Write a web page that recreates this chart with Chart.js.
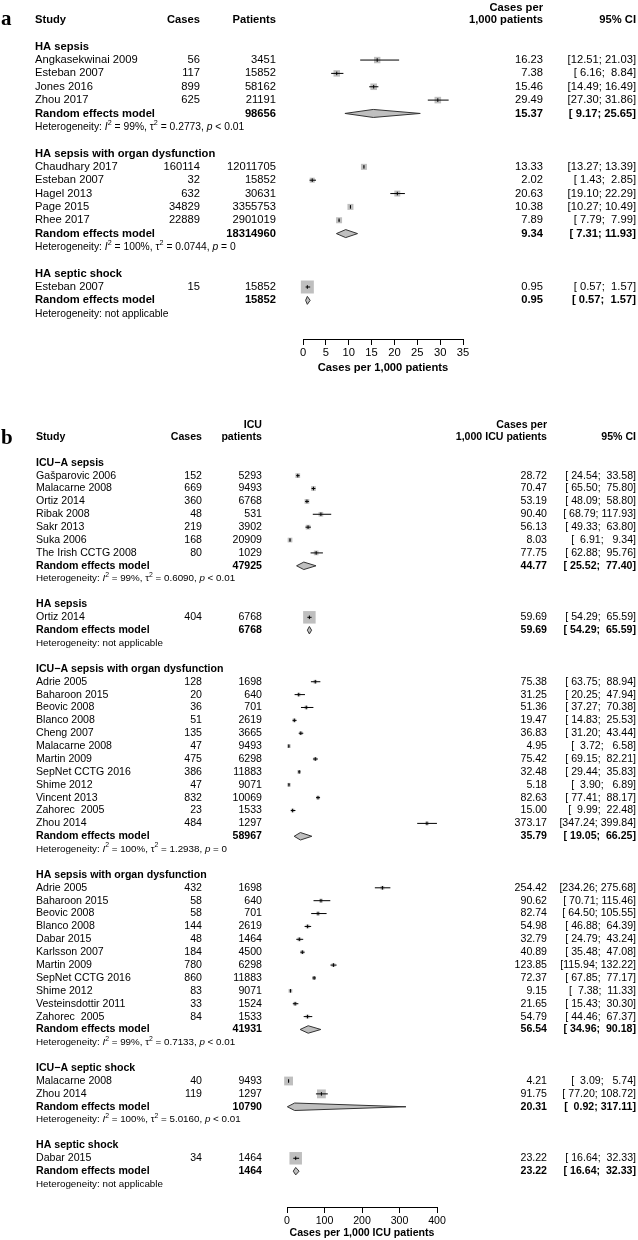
<!DOCTYPE html>
<html>
<head>
<meta charset="utf-8">
<script src="https://cdn.jsdelivr.net/npm/chart.js@4.4.1/dist/chart.umd.min.js"></script>
<style>
  html, body { margin: 0; padding: 0; background: #fff; overflow: hidden; }
  canvas { display: block; }
</style>
</head>
<body>
<canvas id="forestA" width="638" height="395"></canvas>
<canvas id="forestB" width="638" height="860"></canvas>
<script>
/* ---------------- panel a : HA incidence per 1,000 patients ---------------- */
const aGroups = ["HA sepsis", "HA sepsis with organ dysfunction", "HA septic shock"];
const aStudy = ["Angkasekwinai 2009", "Esteban 2007", "Jones 2016", "Zhou 2017",
  "Chaudhary 2017", "Esteban 2007", "Hagel 2013", "Page 2015", "Rhee 2017",
  "Esteban 2007"];
const aGroupOf = [0, 0, 0, 0, 1, 1, 1, 1, 1, 2];
const aCases = [56, 117, 899, 625, 160114, 32, 632, 34829, 22889, 15];
const aPatients = [3451, 15852, 58162, 21191, 12011705, 15852, 30631, 3355753, 2901019, 15852];
const aRate = [16.23, 7.38, 15.46, 29.49, 13.33, 2.02, 20.63, 10.38, 7.89, 0.95];
const aLow = [12.51, 6.16, 14.49, 27.30, 13.27, 1.43, 19.10, 10.27, 7.79, 0.57];
const aHigh = [21.03, 8.84, 16.49, 31.86, 13.39, 2.85, 22.29, 10.49, 7.99, 1.57];
const aPoolN = [98656, 18314960, 15852];
const aPoolRate = [15.37, 9.34, 0.95];
const aPoolLow = [9.17, 7.31, 0.57];
const aPoolHigh = [25.65, 11.93, 1.57];
const aI2 = [99, 100, null];
const aTau2 = [0.2773, 0.0744, null];
const aP = ["< 0.01", "= 0", null];
const aTicks = [0, 5, 10, 15, 20, 25, 30, 35];

/* ---------------- panel b : per 1,000 ICU patients ---------------- */
const bGroups = ["ICU\u2212A sepsis", "HA sepsis", "ICU\u2212A sepsis with organ dysfunction",
  "HA sepsis with organ dysfunction", "ICU\u2212A septic shock", "HA septic shock"];
const bStudy = [
  "Gašparovic 2006", "Malacarne 2008", "Ortiz 2014", "Ribak 2008", "Sakr 2013", "Suka 2006", "The Irish CCTG 2008",
  "Ortiz 2014",
  "Adrie 2005", "Baharoon 2015", "Beovic 2008", "Blanco 2008", "Cheng 2007", "Malacarne 2008", "Martin 2009",
  "SepNet CCTG 2016", "Shime 2012", "Vincent 2013", "Zahorec  2005", "Zhou 2014",
  "Adrie 2005", "Baharoon 2015", "Beovic 2008", "Blanco 2008", "Dabar 2015", "Karlsson 2007", "Martin 2009",
  "SepNet CCTG 2016", "Shime 2012", "Vesteinsdottir 2011", "Zahorec  2005",
  "Malacarne 2008", "Zhou 2014",
  "Dabar 2015"];
const bGroupOf = [0, 0, 0, 0, 0, 0, 0,
  1,
  2, 2, 2, 2, 2, 2, 2, 2, 2, 2, 2, 2,
  3, 3, 3, 3, 3, 3, 3, 3, 3, 3, 3,
  4, 4,
  5];
const bCases = [152, 669, 360, 48, 219, 168, 80,
  404,
  128, 20, 36, 51, 135, 47, 475, 386, 47, 832, 23, 484,
  432, 58, 58, 144, 48, 184, 780, 860, 83, 33, 84,
  40, 119,
  34];
const bPatients = [5293, 9493, 6768, 531, 3902, 20909, 1029,
  6768,
  1698, 640, 701, 2619, 3665, 9493, 6298, 11883, 9071, 10069, 1533, 1297,
  1698, 640, 701, 2619, 1464, 4500, 6298, 11883, 9071, 1524, 1533,
  9493, 1297,
  1464];
const bRate = [28.72, 70.47, 53.19, 90.40, 56.13, 8.03, 77.75,
  59.69,
  75.38, 31.25, 51.36, 19.47, 36.83, 4.95, 75.42, 32.48, 5.18, 82.63, 15.00, 373.17,
  254.42, 90.62, 82.74, 54.98, 32.79, 40.89, 123.85, 72.37, 9.15, 21.65, 54.79,
  4.21, 91.75,
  23.22];
const bLow = [24.54, 65.50, 48.09, 68.79, 49.33, 6.91, 62.88,
  54.29,
  63.75, 20.25, 37.27, 14.83, 31.20, 3.72, 69.15, 29.44, 3.90, 77.41, 9.99, 347.24,
  234.26, 70.71, 64.50, 46.88, 24.79, 35.48, 115.94, 67.85, 7.38, 15.43, 44.46,
  3.09, 77.20,
  16.64];
const bHigh = [33.58, 75.80, 58.80, 117.93, 63.80, 9.34, 95.76,
  65.59,
  88.94, 47.94, 70.38, 25.53, 43.44, 6.58, 82.21, 35.83, 6.89, 88.17, 22.48, 399.84,
  275.68, 115.46, 105.55, 64.39, 43.24, 47.08, 132.22, 77.17, 11.33, 30.30, 67.37,
  5.74, 108.72,
  32.33];
const bPoolN = [47925, 6768, 58967, 41931, 10790, 1464];
const bPoolRate = [44.77, 59.69, 35.79, 56.54, 20.31, 23.22];
const bPoolLow = [25.52, 54.29, 19.05, 34.96, 0.92, 16.64];
const bPoolHigh = [77.40, 65.59, 66.25, 90.18, 317.11, 32.33];
const bI2 = [99, null, 100, 99, 100, null];
const bTau2 = [0.6090, null, 1.2938, 0.7133, 5.0160, null];
const bP = ["< 0.01", null, "= 0", "< 0.01", "< 0.01", null];
const bTicks = [0, 100, 200, 300, 400];

/* ---------------- helpers ---------------- */
const FONT = '"Liberation Sans", Arial, Helvetica, sans-serif';
const SQUARE = "#bfbfbf";
const W = 638;

function fnt(size, bold, italic) {
  return `${italic ? "italic " : ""}${bold ? "bold " : ""}${size}px ${FONT}`;
}

function fmtCI(lo, hi, w) {
  return "[" + lo.toFixed(2).padStart(w) + "; " + hi.toFixed(2).padStart(w) + "]";
}

// one text line per row: group title, studies, pooled, heterogeneity, blank
function buildRows(groups, groupOf) {
  const studyRow = [], groupRow = [], poolRow = [], hetRow = [];
  let r = 2;
  groups.forEach((g, gi) => {
    groupRow[gi] = r++;
    groupOf.forEach((gg, si) => { if (gg === gi) studyRow[si] = r++; });
    poolRow[gi] = r++;
    hetRow[gi] = r++;
    r++;
  });
  return { studyRow, groupRow, poolRow, hetRow };
}

// random-effects weight share inside each subgroup -> box side (area ~ weight)
function boxSides(low, high, groupOf, tau2, maxSide) {
  const w = low.map((l, i) => {
    const se = (Math.log(high[i]) - Math.log(l)) / (2 * 1.96);
    return 1 / (se * se + (tau2[groupOf[i]] || 0));
  });
  const tot = [];
  w.forEach((v, i) => { tot[groupOf[i]] = (tot[groupOf[i]] || 0) + v; });
  return w.map((v, i) => maxSide * Math.sqrt(v / tot[groupOf[i]]));
}

function hetSegments(i2, tau2, p) {
  if (i2 === null) return [{ t: "Heterogeneity: not applicable" }];
  return [
    { t: "Heterogeneity: " }, { t: "I", it: true }, { t: "2", sup: true },
    { t: " = " + i2 + "%, " }, { t: "\u03c4" }, { t: "2", sup: true },
    { t: " = " + tau2.toFixed(4) + ", " }, { t: "p", it: true }, { t: " " + p }
  ];
}

function drawRich(ctx, segs, x, y, size) {
  let cx = x;
  segs.forEach(s => {
    const sz = s.sup ? size * 0.7 : size;
    ctx.font = fnt(sz, false, s.it);
    ctx.fillText(s.t, cx, y - (s.sup ? size * 0.38 : 0));
    cx += ctx.measureText(s.t).width;
  });
}

/* ---------------- forest chart ---------------- */
function makeForest(P) {
  const R = buildRows(P.groups, P.groupOf);
  const sides = boxSides(P.low, P.high, P.groupOf, P.tau2, P.maxSide);
  const yMin = -P.row0 / P.pitch;
  const yMax = (P.axisY - P.row0) / P.pitch;
  const datasets = [];

  // pooled diamonds
  P.poolRate.forEach((est, g) => {
    const r = R.poolRow[g], h = P.diamondHalf;
    datasets.push({
      type: "line",
      data: [{ x: P.poolLow[g], y: r }, { x: est, y: r - h }, { x: P.poolHigh[g], y: r },
             { x: est, y: r + h }, { x: P.poolLow[g], y: r }],
      fill: "shape", backgroundColor: SQUARE, borderColor: "#333", borderWidth: 1,
      pointRadius: 0, tension: 0, order: 4
    });
  });

  // study squares
  datasets.push({
    type: "scatter",
    data: P.rate.map((v, i) => ({ x: v, y: R.studyRow[i] })),
    pointStyle: "rect", pointRadius: sides.map(s => s / Math.SQRT2),
    pointBackgroundColor: SQUARE, pointBorderWidth: 0, order: 3, clip: false
  });

  // confidence intervals (gaps between studies)
  const ci = [];
  P.rate.forEach((v, i) => {
    const r = R.studyRow[i];
    ci.push({ x: P.low[i], y: r }, { x: P.high[i], y: r }, { x: P.high[i], y: null });
  });
  datasets.push({
    type: "line", data: ci, borderColor: "#000", borderWidth: 1, pointRadius: 0,
    spanGaps: false, fill: false, tension: 0, order: 2, clip: false
  });

  // point estimate tick
  datasets.push({
    type: "scatter",
    data: P.rate.map((v, i) => ({ x: v, y: R.studyRow[i] })),
    pointStyle: "line", pointRotation: 90, pointRadius: 1.8,
    pointBorderColor: "#000", pointBorderWidth: 1, order: 1, clip: false
  });

  const textPlugin = {
    id: "forestText" + P.label,
    afterDraw(chart) {
      const ctx = chart.ctx;
      const ys = chart.scales.y;
      const y = r => ys.getPixelForValue(r);
      const C = P.cols;
      ctx.save();
      ctx.fillStyle = "#000";

      ctx.font = "bold 21px \"Liberation Serif\", \"DejaVu Serif\", serif";
      ctx.textAlign = "left";
      ctx.textBaseline = "alphabetic";
      ctx.fillText(P.label, 1, P.labelY);

      ctx.textBaseline = "middle";
      // header
      ctx.font = fnt(P.fs, true);
      ctx.textAlign = "left";
      ctx.fillText("Study", C.study, y(0));
      ctx.textAlign = "right";
      ctx.fillText("Cases", C.cases, y(0));
      ctx.fillText(P.patHead[0], C.patients, y(-P.headGap));
      ctx.fillText(P.patHead[1], C.patients, y(0));
      ctx.fillText(P.rateHead[0], C.rate, y(-P.headGap));
      ctx.fillText(P.rateHead[1], C.rate, y(0));
      ctx.fillText("95% CI", C.ci, y(0));

      P.groups.forEach((g, gi) => {
        ctx.font = fnt(P.fs, true);
        ctx.textAlign = "left";
        ctx.fillText(g, C.study, y(R.groupRow[gi]));
        const pr = y(R.poolRow[gi]);
        ctx.fillText("Random effects model", C.study, pr);
        ctx.textAlign = "right";
        ctx.fillText(String(P.poolN[gi]), C.patients, pr);
        ctx.fillText(P.poolRate[gi].toFixed(2), C.rate, pr);
        ctx.fillText(fmtCI(P.poolLow[gi], P.poolHigh[gi], P.ciWidth), C.ci, pr);
        ctx.textAlign = "left";
        drawRich(ctx, hetSegments(P.i2[gi], P.tau2[gi], P.p[gi]), C.study, y(R.hetRow[gi]), P.fsHet);
      });

      ctx.font = fnt(P.fs, false);
      P.study.forEach((s, i) => {
        const sy = y(R.studyRow[i]);
        ctx.textAlign = "left";
        ctx.fillText(s, C.study, sy);
        ctx.textAlign = "right";
        ctx.fillText(String(P.cases[i]), C.cases, sy);
        ctx.fillText(String(P.patients[i]), C.patients, sy);
        ctx.fillText(P.rate[i].toFixed(2), C.rate, sy);
        ctx.fillText(fmtCI(P.low[i], P.high[i], P.ciWidth), C.ci, sy);
      });
      ctx.restore();
    }
  };

  const lh = P.fs * 1.2;
  return new Chart(document.getElementById(P.canvas), {
    type: "scatter",
    data: { datasets },
    options: {
      responsive: false,
      animation: false,
      events: [],
      layout: { autoPadding: false, padding: { left: P.xLeft, right: W - P.xRight, top: 0, bottom: 0 } },
      plugins: { legend: { display: false }, tooltip: { enabled: false } },
      scales: {
        x: {
          type: "linear", position: "bottom", min: P.ticks[0], max: P.ticks[P.ticks.length - 1],
          afterFit: s => { s.height = P.height - P.axisY; },
          afterBuildTicks: s => { s.ticks = P.ticks.map(v => ({ value: v })); },
          border: { display: true, color: "#000", width: 1 },
          grid: { display: true, drawOnChartArea: false, drawTicks: true, tickLength: 6, color: "#000", lineWidth: 1 },
          ticks: { color: "#000", font: { family: FONT, size: P.fs }, padding: P.tickPad, maxRotation: 0, autoSkip: false },
          title: {
            display: true, text: P.xTitle, color: "#000",
            font: { family: FONT, size: P.fs, weight: "bold" },
            padding: { top: 0, bottom: P.height - P.titleY - lh / 2 }
          }
        },
        y: { type: "linear", display: false, reverse: true, min: yMin, max: yMax }
      }
    },
    plugins: [textPlugin]
  });
}

makeForest({
  canvas: "forestA", label: "a", labelY: 25, height: 395,
  row0: 20, pitch: 13.35, axisY: 339, titleY: 368, tickPad: 1, xLeft: 303, xRight: 463,
  cols: { study: 35, cases: 200, patients: 276, rate: 543, ci: 636 },
  fs: 11.2, fsHet: 10.3, headGap: 0.9, ciWidth: 5, maxSide: 13, diamondHalf: 0.3,
  patHead: ["", "Patients"], rateHead: ["Cases per", "1,000 patients"],
  xTitle: "Cases per 1,000 patients", ticks: aTicks,
  groups: aGroups, study: aStudy, groupOf: aGroupOf, cases: aCases, patients: aPatients,
  rate: aRate, low: aLow, high: aHigh,
  poolN: aPoolN, poolRate: aPoolRate, poolLow: aPoolLow, poolHigh: aPoolHigh,
  i2: aI2, tau2: aTau2, p: aP
});

makeForest({
  canvas: "forestB", label: "b", labelY: 49, height: 860,
  row0: 42, pitch: 12.88, axisY: 812, titleY: 838, tickPad: 2, xLeft: 287, xRight: 437,
  cols: { study: 36, cases: 202, patients: 262, rate: 547, ci: 636 },
  fs: 10.6, fsHet: 9.8, headGap: 0.93, ciWidth: 6, maxSide: 12.5, diamondHalf: 0.29,
  patHead: ["ICU", "patients"], rateHead: ["Cases per", "1,000 ICU patients"],
  xTitle: "Cases per 1,000 ICU patients", ticks: bTicks,
  groups: bGroups, study: bStudy, groupOf: bGroupOf, cases: bCases, patients: bPatients,
  rate: bRate, low: bLow, high: bHigh,
  poolN: bPoolN, poolRate: bPoolRate, poolLow: bPoolLow, poolHigh: bPoolHigh,
  i2: bI2, tau2: bTau2, p: bP
});
</script>
</body>
</html>
